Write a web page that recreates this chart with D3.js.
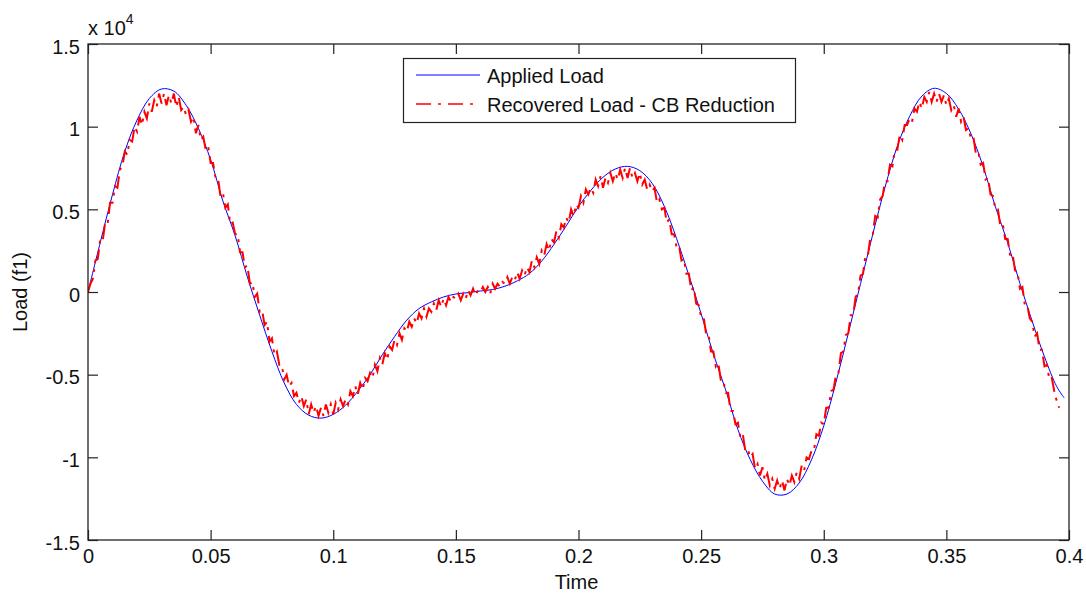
<!DOCTYPE html>
<html>
<head>
<meta charset="utf-8">
<script src="https://cdn.jsdelivr.net/npm/d3@7"></script>
<style>
  html, body { margin: 0; padding: 0; background: #fff; }
  svg { display: block; }
  text { font-family: Arial, "Liberation Sans", Helvetica, sans-serif; fill: #111; }
</style>
</head>
<body>
<svg id="chart" width="1086" height="594"></svg>
<script>
// Load values are in units of 1e4 (axis carries the "x 10^4" multiplier)

// Applied load, sampled every 5 ms (last sample at 0.398 s)
const appliedTime = d3.range(80).map(i => +(i * 0.005).toFixed(3)).concat([0.398]);
const appliedLoad = [
  0.00, 0.30, 0.59, 0.85, 1.04, 1.17, 1.228, 1.215, 1.13, 0.99,
  0.80, 0.55, 0.34, 0.09, -0.14, -0.36, -0.55, -0.68, -0.745, -0.763,
  -0.74, -0.685, -0.60, -0.50, -0.38, -0.27, -0.17, -0.10, -0.06, -0.03,
  -0.012, -0.004, 0.006, 0.015, 0.035, 0.067, 0.112, 0.187, 0.288, 0.40,
  0.517, 0.614, 0.694, 0.744, 0.760, 0.734, 0.658, 0.518, 0.323, 0.101,
  -0.132, -0.375, -0.592, -0.832, -1.013, -1.144, -1.222, -1.222, -1.155, -1.015,
  -0.81, -0.545, -0.25, 0.05, 0.35, 0.634, 0.882, 1.062, 1.185, 1.232,
  1.201, 1.106, 0.958, 0.758, 0.515, 0.298, 0.051, -0.177, -0.392, -0.572,
  -0.64
];

// Recovered load (CB reduction), sampled every 1 ms
const recoveredTime = d3.range(397).map(i => +(i * 0.001).toFixed(3));
const recoveredLoad = [
  0.00, 0.05, 0.08, 0.19, 0.20,  0.32, 0.31, 0.42, 0.41, 0.54,
  0.54, 0.64, 0.63, 0.74, 0.76,  0.85, 0.83, 0.92, 0.91, 1.00,
  0.97, 1.06, 1.01, 1.09, 1.05,  1.14, 1.09, 1.16, 1.12, 1.20,
  1.14, 1.20, 1.13, 1.19, 1.14,  1.20, 1.12, 1.18, 1.10, 1.12,
  1.07, 1.10, 1.03, 1.06, 0.96,  1.01, 0.92, 0.94, 0.86, 0.88,
  0.78, 0.78, 0.69, 0.69, 0.58,  0.60, 0.51, 0.53, 0.41, 0.42,
  0.35, 0.35, 0.24, 0.24, 0.15,  0.16, 0.05, 0.06, -0.03, -0.01,
  -0.12, -0.11, -0.20, -0.18, -0.30,  -0.28, -0.38, -0.36, -0.44, -0.44,
  -0.53, -0.50, -0.57, -0.55, -0.63,  -0.61, -0.67, -0.63, -0.69, -0.65,
  -0.74, -0.68, -0.73, -0.69, -0.75,  -0.70, -0.75, -0.68, -0.73, -0.68,
  -0.74, -0.67, -0.71, -0.65, -0.69,  -0.65, -0.68, -0.60, -0.63, -0.57,
  -0.62, -0.55, -0.59, -0.52, -0.54,  -0.49, -0.52, -0.44, -0.48, -0.40,
  -0.44, -0.37, -0.41, -0.33, -0.35,  -0.29, -0.32, -0.25, -0.29, -0.22,
  -0.24, -0.18, -0.21, -0.16, -0.19,  -0.13, -0.16, -0.10, -0.15, -0.10,
  -0.12, -0.07, -0.11, -0.05, -0.09,  -0.04, -0.08, -0.03, -0.06, -0.03,
  -0.04, -0.01, -0.05, -0.01, -0.04,  0.01, -0.02, 0.02, -0.02, 0.01,
  0.00, 0.03, 0.00, 0.03, -0.01,  0.05, 0.02, 0.05, 0.03, 0.06,
  0.05, 0.09, 0.05, 0.09, 0.07,  0.12, 0.08, 0.13, 0.10, 0.15,
  0.12, 0.19, 0.15, 0.21, 0.17,  0.25, 0.22, 0.29, 0.25, 0.32,
  0.30, 0.37, 0.33, 0.41, 0.39,  0.45, 0.42, 0.50, 0.46, 0.53,
  0.51, 0.58, 0.54, 0.62, 0.59,  0.63, 0.60, 0.68, 0.64, 0.70,
  0.63, 0.69, 0.66, 0.72, 0.67,  0.72, 0.68, 0.74, 0.69, 0.75,
  0.69, 0.75, 0.69, 0.72, 0.67,  0.72, 0.65, 0.68, 0.62, 0.65,
  0.61, 0.63, 0.54, 0.56, 0.50,  0.51, 0.42, 0.44, 0.35, 0.35,
  0.27, 0.28, 0.19, 0.20, 0.11,  0.11, 0.01, 0.03, -0.07, -0.08,
  -0.15, -0.15, -0.25, -0.25, -0.36,  -0.36, -0.45, -0.43, -0.53, -0.53,
  -0.61, -0.61, -0.72, -0.72, -0.80,  -0.79, -0.88, -0.86, -0.96, -0.95,
  -1.00, -0.98, -1.07, -1.04, -1.11,  -1.06, -1.14, -1.10, -1.17, -1.13,
  -1.19, -1.14, -1.19, -1.14, -1.20,  -1.13, -1.17, -1.11, -1.15, -1.09,
  -1.13, -1.05, -1.08, -1.00, -1.01,  -0.96, -0.96, -0.86, -0.87, -0.79,
  -0.80, -0.70, -0.70, -0.60, -0.59,  -0.50, -0.49, -0.37, -0.36, -0.26,
  -0.25, -0.14, -0.14, -0.03, -0.01,  0.10, 0.11, 0.22, 0.22, 0.33,
  0.35, 0.46, 0.45, 0.56, 0.58,  0.67, 0.67, 0.77, 0.76, 0.86,
  0.86, 0.95, 0.92, 1.01, 1.01,  1.05, 1.03, 1.11, 1.09, 1.15,
  1.11, 1.18, 1.15, 1.21, 1.15,  1.20, 1.15, 1.20, 1.15, 1.19,
  1.13, 1.17, 1.10, 1.13, 1.06,  1.11, 1.03, 1.06, 0.98, 0.99,
  0.93, 0.94, 0.84, 0.85, 0.77,  0.78, 0.68, 0.69, 0.59, 0.58,
  0.50, 0.50, 0.40, 0.41, 0.32,  0.32, 0.22, 0.23, 0.13, 0.12,
  0.02, 0.03, -0.08, -0.08, -0.16,  -0.18, -0.27, -0.25, -0.35, -0.35,
  -0.45, -0.44, -0.53, -0.52, -0.60,  -0.66, -0.70
];

const xTicks = [0, 0.05, 0.1, 0.15, 0.2, 0.25, 0.3, 0.35, 0.4];
const yTicks = [-1.5, -1, -0.5, 0, 0.5, 1, 1.5];
const seriesNames = ["Applied Load", "Recovered Load - CB Reduction"];
const seriesColors = ["#0000ff", "#ff0000"];

const svg = d3.select("#chart");
const margin = { left: 88, top: 44, right: 17, bottom: 54 };
const W = 1086, H = 594;
const x0 = margin.left, x1 = W - margin.right;
const y0 = margin.top, y1 = H - margin.bottom;

const x = d3.scaleLinear().domain([0, 0.4]).range([x0, x1]);
const y = d3.scaleLinear().domain([-1.5, 1.5]).range([y1, y0]);
// plain hyphen for negatives, shortest form for decimals
const fmt = v => d3.format("~g")(v).replace("\u2212", "-");
const tickLen = 10;

svg.append("defs").append("clipPath").attr("id", "plotClip")
  .append("rect").attr("x", x0).attr("y", y0).attr("width", x1 - x0).attr("height", y1 - y0);

// data lines
const plot = svg.append("g").attr("clip-path", "url(#plotClip)");

const appliedLine = d3.line()
  .x((d, i) => x(appliedTime[i]))
  .y(d => y(d))
  .curve(d3.curveCatmullRom.alpha(0.5));

plot.append("path")
  .datum(appliedLoad)
  .attr("d", appliedLine)
  .attr("fill", "none")
  .attr("stroke", seriesColors[0])
  .attr("stroke-width", 1);

const recoveredLine = d3.line()
  .x((d, i) => x(recoveredTime[i]))
  .y(d => y(d));

plot.append("path")
  .datum(recoveredLoad)
  .attr("d", recoveredLine)
  .attr("fill", "none")
  .attr("stroke", seriesColors[1])
  .attr("stroke-width", 2)
  .attr("stroke-dasharray", "15,6,3,6");

// axes: ticks point inward on all four sides
const axisColor = "#222";
function styleAxis(g) {
  g.select(".domain").remove();
  g.selectAll(".tick line").attr("stroke", axisColor).attr("stroke-width", 1.2);
  g.selectAll(".tick text").attr("fill", "#111").style("font-size", "20px")
    .style("font-family", 'Arial, "Liberation Sans", sans-serif');
}

svg.append("g").attr("transform", `translate(0,${y1})`)
  .call(d3.axisBottom(x).tickValues(xTicks).tickFormat(fmt).tickSizeInner(-tickLen).tickSizeOuter(0).tickPadding(9))
  .call(styleAxis);

svg.append("g").attr("transform", `translate(0,${y0})`)
  .call(d3.axisTop(x).tickValues(xTicks).tickFormat("").tickSizeInner(-tickLen).tickSizeOuter(0))
  .call(styleAxis);

svg.append("g").attr("transform", `translate(${x0},0)`)
  .call(d3.axisLeft(y).tickValues(yTicks).tickFormat(fmt).tickSizeInner(-tickLen).tickSizeOuter(0).tickPadding(8))
  .call(styleAxis)
  .call(g => g.selectAll(".tick text").attr("dy", "0.45em"));

svg.append("g").attr("transform", `translate(${x1},0)`)
  .call(d3.axisRight(y).tickValues(yTicks).tickFormat("").tickSizeInner(-tickLen).tickSizeOuter(0))
  .call(styleAxis);

// axes box
svg.append("rect")
  .attr("x", x0).attr("y", y0)
  .attr("width", x1 - x0).attr("height", y1 - y0)
  .attr("fill", "none").attr("stroke", axisColor).attr("stroke-width", 1.3);

// exponent multiplier
const mult = svg.append("text").attr("x", x0).attr("y", 35).style("font-size", "20px");
mult.append("tspan").text("x 10");
mult.append("tspan").attr("dy", -11).style("font-size", "14px").text("4");

// axis titles
svg.append("text")
  .attr("x", (x0 + x1) / 2 - 2).attr("y", 589)
  .attr("text-anchor", "middle").style("font-size", "20px")
  .text("Time");

svg.append("text")
  .attr("transform", `translate(27,${(y0 + y1) / 2}) rotate(-90)`)
  .attr("text-anchor", "middle").style("font-size", "20px")
  .text("Load (f1)");

// legend
const legend = svg.append("g");
legend.append("rect")
  .attr("x", 403.5).attr("y", 58.5).attr("width", 392).attr("height", 64)
  .attr("fill", "#fff").attr("stroke", axisColor).attr("stroke-width", 1.2);

const legendRows = [75, 104];
seriesNames.forEach((name, i) => {
  legend.append("line")
    .attr("x1", 416).attr("x2", 480)
    .attr("y1", legendRows[i]).attr("y2", legendRows[i])
    .attr("stroke", seriesColors[i])
    .attr("stroke-width", i === 0 ? 1.2 : 1.4)
    .attr("stroke-dasharray", i === 0 ? null : "15,7,3,7");
  legend.append("text")
    .attr("x", 487).attr("y", legendRows[i] + 8)
    .style("font-size", "20px")
    .text(name);
});
</script>
</body>
</html>
